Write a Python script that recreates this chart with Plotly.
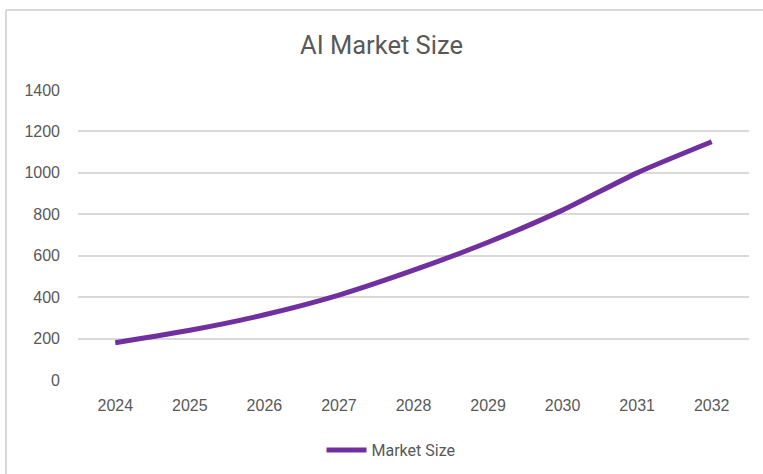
import plotly.graph_objects as go

# Projected AI market size by year
years = ["2024", "2025", "2026", "2027", "2028", "2029", "2030", "2031", "2032"]
market_size = [180, 240, 315, 410, 530, 665, 820, 1000, 1150]
y_ticks = [0, 200, 400, 600, 800, 1000, 1200, 1400]

W, H = 763, 474
left, right, top, bottom = 78, 14, 90, 94
plot_w = W - left - right
plot_h = H - top - bottom


def px_to_paper_x(px):
    return (px - left) / plot_w


def px_to_paper_y(py):
    return (H - bottom - py) / plot_h


fig = go.Figure()
fig.add_trace(go.Scatter(
    x=years,
    y=market_size,
    mode="lines",
    name="Market Size",
    line=dict(color="#7030A0", width=5, shape="spline", smoothing=0.6),
))

# Outer chart frame (top and left edges visible)
frame = dict(color="#d9d9d9", width=2)
fig.add_shape(type="line", xref="paper", yref="paper",
              x0=px_to_paper_x(6), x1=px_to_paper_x(780),
              y0=px_to_paper_y(10), y1=px_to_paper_y(10), line=frame)
fig.add_shape(type="line", xref="paper", yref="paper",
              x0=px_to_paper_x(6), x1=px_to_paper_x(6),
              y0=px_to_paper_y(10), y1=px_to_paper_y(490), line=frame)

fig.update_layout(
    width=W, height=H,
    margin=dict(l=left, r=right, t=top, b=bottom, autoexpand=False),
    paper_bgcolor="white",
    plot_bgcolor="white",
    title=dict(text="AI Market Size", x=0.5, xref="container", xanchor="center",
               y=1 - 45 / H, yref="container", yanchor="middle",
               font=dict(family="Roboto", size=25.5, color="#595959")),
    showlegend=True,
    legend=dict(orientation="h", x=px_to_paper_x(391), xanchor="center",
                y=px_to_paper_y(450), yanchor="middle",
                font=dict(family="Roboto", size=16, color="#595959"),
                itemwidth=40),
    xaxis=dict(
        type="category", range=[-0.5, len(years) - 0.5], automargin=False,
        showgrid=False, zeroline=False, showline=False,
        ticks="", ticklabelstandoff=14,
        tickfont=dict(family="Liberation Sans", size=16, color="#595959"),
    ),
    yaxis=dict(
        range=[0, 1400], tickvals=y_ticks, automargin=False,
        showgrid=True, gridcolor="#d9d9d9", gridwidth=1.5,
        zeroline=False, showline=False,
        ticks="", ticklabelstandoff=17,
        tickfont=dict(family="Liberation Sans", size=16, color="#595959"),
    ),
)

fig.write_html("out.html")
